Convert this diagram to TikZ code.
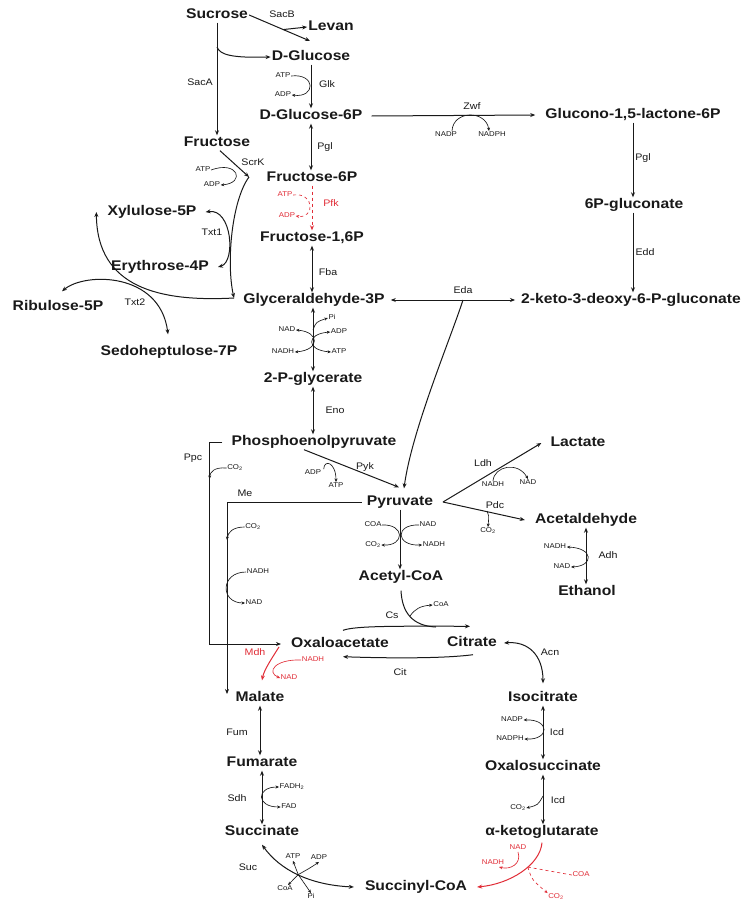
\documentclass[tikz,border=0pt]{standalone}
\usepackage{fontspec}
\usetikzlibrary{arrows.meta,calc}
\newfontfamily\lsans[FakeStretch=1.12]{Liberation Sans}
\newcommand\metf{\lsans\bfseries\fontsize{14}{16}\selectfont}
\newcommand\enzf{\lsans\fontsize{9.5}{10}\selectfont}
\newcommand\coff{\lsans\fontsize{7}{8}\selectfont}
\definecolor{rxnred}{RGB}{225,45,55}
\definecolor{ink}{RGB}{25,25,25}
\tikzset{
 met/.style={font=\metf, inner sep=1pt, text=ink, text height=10pt, text depth=3pt},
 enz/.style={font=\enzf, inner sep=0.5pt, text=ink},
 cof/.style={font=\coff, inner sep=0.5pt, text=ink, text height=5pt, text depth=1.5pt},
 rd/.style={text=rxnred},
 ln/.style={draw=ink, line width=1pt},
 arr/.style={ln, -{Stealth[length=5pt,width=4pt]}},
 darr/.style={ln, {Stealth[length=5pt,width=4pt]}-{Stealth[length=5pt,width=4pt]}},
 cl/.style={draw=ink, line width=0.65pt},
 carr/.style={cl, -{Stealth[length=3.5pt,width=3pt]}},
 cdarr/.style={cl, {Stealth[length=3.5pt,width=3pt]}-{Stealth[length=3.5pt,width=3pt]}},
 rarr/.style={draw=rxnred, line width=1pt, -{Stealth[length=5pt,width=4pt]}},
 rl/.style={draw=rxnred, line width=0.65pt},
 rcarr/.style={rl, -{Stealth[length=3.5pt,width=3pt]}},
}
\begin{document}
\begin{tikzpicture}[x=1pt,y=-1pt]
\fill[white] (0,0) rectangle (743,902);
\useasboundingbox (0,0) rectangle (743,902);

% metabolites
\node[met] (suc) at (217,15) {Sucrose};
\node[met] (lev) at (331,27) {Levan};
\node[met] (glc) at (311,57) {D-Glucose};
\node[met] (g6p) at (311,116) {D-Glucose-6P};
\node[met] (fru) at (217,143) {Fructose};
\node[met] (f6p) at (312,178) {Fructose-6P};
\node[met] (fbp) at (312,238) {Fructose-1,6P};
\node[met] (x5p) at (152,212) {Xylulose-5P};
\node[met] (e4p) at (160,267) {Erythrose-4P};
\node[met] (g3p) at (314,300) {Glyceraldehyde-3P};
\node[met] (r5p) at (58,307) {Ribulose-5P};
\node[met] (s7p) at (169,352) {Sedoheptulose-7P};
\node[met] (gl6p) at (633,115) {Glucono-1,5-lactone-6P};
\node[met] (pg6) at (634,205) {6P-gluconate};
\node[met] (kdpg) at (631,300) {2-keto-3-deoxy-6-P-gluconate};
\node[met] (p2g) at (313,379) {2-P-glycerate};
\node[met] (pep) at (314,442) {Phosphoenolpyruvate};
\node[met] (pyr) at (400,502) {Pyruvate};
\node[met] (lac) at (578,443) {Lactate};
\node[met] (acald) at (586,520) {Acetaldehyde};
\node[met] (eth) at (587,592) {Ethanol};
\node[met] (accoa) at (401,577) {Acetyl-CoA};
\node[met] (oaa) at (340,644) {Oxaloacetate};
\node[met] (cit) at (472,643) {Citrate};
\node[met] (mal) at (260,698) {Malate};
\node[met] (icit) at (543,698) {Isocitrate};
\node[met] (oxs) at (543,767) {Oxalosuccinate};
\node[met] (fum) at (262,763) {Fumarate};
\node[met] (akg) at (542,832) {α-ketoglutarate};
\node[met] (succ) at (262,832) {Succinate};
\node[met] (sucoa) at (416,887) {Succinyl-CoA};

% enzymes
\node[enz] (e_sacb) at (282,14) {SacB};
\node[enz] (e_saca) at (200,82) {SacA};
\node[enz] (e_glk) at (327,84) {Glk};
\node[enz] (e_pgi) at (325,147) {Pgl};
\node[enz] (e_scrk) at (253,162) {ScrK};
\node[enz,rd] (e_pfk) at (331,203) {Pfk};
\node[enz] (e_txt1) at (212,232) {Txt1};
\node[enz] (e_fba) at (328,272) {Fba};
\node[enz] (e_zwf) at (472,106) {Zwf};
\node[enz] (e_pgl) at (643,158) {Pgl};
\node[enz] (e_edd) at (645,252) {Edd};
\node[enz] (e_eda) at (463,290) {Eda};
\node[enz] (e_txt2) at (135,302) {Txt2};
\node[enz] (e_eno) at (335,410) {Eno};
\node[enz] (e_ppc) at (193,458) {Ppc};
\node[enz] (e_pyk) at (365,467) {Pyk};
\node[enz] (e_me) at (245,493) {Me};
\node[enz] (e_ldh) at (483,463) {Ldh};
\node[enz] (e_pdc) at (495,505) {Pdc};
\node[enz] (e_adh) at (608,555) {Adh};
\node[enz] (e_cs) at (392,615) {Cs};
\node[enz] (e_cit) at (400,672) {Cit};
\node[enz] (e_acn) at (550,652) {Acn};
\node[enz,rd] (e_mdh) at (255,652) {Mdh};
\node[enz] (e_icd1) at (557,732) {Icd};
\node[enz] (e_icd2) at (558,800) {Icd};
\node[enz] (e_fum) at (237,732) {Fum};
\node[enz] (e_sdh) at (237,798) {Sdh};
\node[enz] (e_suc) at (248,867) {Suc};

% cofactors
\node[cof] (c_atp1) at (283,76) {ATP};
\node[cof] (c_adp1) at (283,95) {ADP};
\node[cof] (c_atp2) at (203,170) {ATP};
\node[cof] (c_adp2) at (212,185) {ADP};
\node[cof,rd] (c_atp3) at (285,195) {ATP};
\node[cof,rd] (c_adp3) at (287,216) {ADP};
\node[cof] (c_nadp1) at (446,135) {NADP};
\node[cof] (c_nadph1) at (492,135) {NADPH};
\node[cof] (c_pi1) at (332,318) {Pi};
\node[cof] (c_adp4) at (339,332) {ADP};
\node[cof] (c_atp4) at (339,352) {ATP};
\node[cof] (c_nad1) at (287,330) {NAD};
\node[cof] (c_nadh1) at (283,352) {NADH};
\node[cof] (c_co2a) at (235,468) {CO\textsubscript{2}};
\node[cof] (c_adp5) at (313,473) {ADP};
\node[cof] (c_atp5) at (336,486) {ATP};
\node[cof] (c_co2b) at (253,527) {CO\textsubscript{2}};
\node[cof] (c_nadh2) at (258,572) {NADH};
\node[cof] (c_nad2) at (254,603) {NAD};
\node[cof] (c_coa1) at (373,525) {COA};
\node[cof] (c_nad3) at (428,525) {NAD};
\node[cof] (c_co2c) at (373,545) {CO\textsubscript{2}};
\node[cof] (c_nadh3) at (434,545) {NADH};
\node[cof] (c_nadh4) at (493,485) {NADH};
\node[cof] (c_nad4) at (528,483) {NAD};
\node[cof] (c_co2d) at (488,531) {CO\textsubscript{2}};
\node[cof] (c_nadh5) at (555,547) {NADH};
\node[cof] (c_nad5) at (562,567) {NAD};
\node[cof] (c_coa2) at (441,605) {CoA};
\node[cof,rd] (c_nadh6) at (313,660) {NADH};
\node[cof,rd] (c_nad6) at (289,678) {NAD};
\node[cof] (c_nadp2) at (512,720) {NADP};
\node[cof] (c_nadph2) at (510,739) {NADPH};
\node[cof] (c_co2e) at (518,808) {CO\textsubscript{2}};
\node[cof] (c_fadh) at (292,787) {FADH\textsubscript{2}};
\node[cof] (c_fad) at (289,807) {FAD};
\node[cof] (c_atp6) at (293,857) {ATP};
\node[cof] (c_adp6) at (319,858) {ADP};
\node[cof] (c_coa3) at (285,889) {CoA};
\node[cof] (c_pi2) at (311,897) {Pi};
\node[cof,rd] (c_nad7) at (518,848) {NAD};
\node[cof,rd] (c_nadh7) at (493,863) {NADH};
\node[cof,rd] (c_coa4) at (581,875) {COA};
\node[cof,rd] (c_co2f) at (556,897) {CO\textsubscript{2}};

% ---- connectors ----
% Sucrose
\coordinate (sacsplit) at (217,47);
\coordinate (sacbend) at (310,41);
\draw[arr] (suc.south) -- (suc.south |- fru.north);
\draw[arr] (sacsplit) .. controls (220,55) and (232,58) .. (glc.west);
\draw[arr] (suc.east) -- (sacbend);
\coordinate (levsplit) at ($(suc.east)!0.56!(sacbend)$);
\draw[arr] (levsplit) -- (lev.west);

% Glk
\draw[arr] (glc.south) -- (glc.south |- g6p.north);
\draw[carr] (c_atp1.east) .. controls (316,73) and (316,98) .. (c_adp1.east);
% Pgi
\draw[darr] (g6p.south) -- (g6p.south |- f6p.north);
% ScrK
\coordinate (scrkend) at (249,177);
\draw[arr] ([xshift=3pt]fru.south) -- (scrkend);
\draw[carr] (c_atp2.east) .. controls (238,160) and (246,183) .. (c_adp2.east);
% Pfk
\draw[rarr, dashed] (f6p.south) -- (f6p.south |- fbp.north);
\draw[rcarr, dashed] (c_atp3.east) .. controls (315,192) and (315,219) .. (c_adp3.east);
% Fba
\draw[darr] (fbp.south) -- (fbp.south |- g3p.north);
% Zwf
\draw[arr] ([xshift=8pt]g6p.east) -- ([xshift=-9pt]gl6p.west);
\draw[carr] ([xshift=6pt]c_nadp1.north) .. controls (453,110) and (486,110) .. ([xshift=-3pt]c_nadph1.north);
% Pgl / Edd
\draw[arr] (gl6p.south) -- (gl6p.south |- pg6.north);
\draw[arr] (pg6.south -| gl6p.south) -- (gl6p.south |- kdpg.north);
% Eda
\draw[darr] ([xshift=5pt]g3p.east) -- ([xshift=-5pt]kdpg.west);
\coordinate (edaj) at (463,300);
\draw[arr] (edaj) .. controls (450,340) and (412,430) .. ([xshift=4pt,yshift=6pt]pyr.north);

% Transketolase
\coordinate (g3pj) at (234,298);
\draw[arr] (scrkend) .. controls (232,200) and (226,262) .. (g3pj);
\draw[arr] (g3pj) .. controls (160,302) and (97,288) .. ([xshift=-10pt]x5p.west);
\draw[darr] ([xshift=8pt]x5p.east) .. controls (232,208) and (236,262) .. ([xshift=8pt]e4p.east);
\draw[darr] ([xshift=4pt,yshift=8pt]r5p.north) .. controls (85,272) and (160,272) .. ([xshift=-1pt,yshift=10pt]s7p.north);

% GAPDH / Pgk
\draw[darr] (p2g.north |- g3p.south) -- (p2g.north);
\draw[cdarr] (c_nad1.east) .. controls (320,332) and (320,350) .. (c_nadh1.east);
\coordinate (gapa) at (313,330);
\draw[carr] (gapa) .. controls (316,322) .. (c_pi1.west);
\draw[cdarr] (c_adp4.west) .. controls (306,334) and (306,350) .. (c_atp4.west);
% Eno
\draw[darr] (p2g.south) -- (p2g.south |- pep.north);
% Pyk
\draw[arr] ([xshift=-10pt]pep.south) -- ([xshift=-1pt,yshift=7pt]pyr.north);
\draw[carr] ([xshift=2pt]c_adp5.north east) .. controls (324,459) and (336,462) .. (c_atp5.north);

% Pyruvate branches
\coordinate (pyrj) at (443,502);
\draw[arr] (pyrj) -- ([xshift=-8pt]lac.west);
\draw[arr] (pyrj) -- ([xshift=-9pt]acald.west);
\draw[carr] (c_nadh4.north) .. controls (494,466) and (518,461) .. (c_nad4.north);
\coordinate (pdcj) at (487,511);
\draw[carr] (pdcj) .. controls (489,515) .. (c_co2d.north);
% Adh
\draw[darr] (acald.south) -- (acald.south |- eth.north);
\draw[cdarr] (c_nadh5.east) .. controls (594,548) and (594,566) .. (c_nad5.east);
% PDH
\draw[arr] (pyr.south) -- (pyr.south |- accoa.north);
\draw[carr] (c_coa1.east) .. controls (405,524) and (405,546) .. (c_co2c.east);
\draw[carr] (c_nad3.west) .. controls (395,524) and (395,546) .. (c_nadh3.west);

% Ppc
\draw[arr] ([xshift=-8pt]pep.west) -- ++(-13,0) |- ([xshift=-9pt]oaa.west);
\coordinate (ppcco2) at (209.5,479);
\draw[carr] (c_co2a.west) .. controls (214,467) and (210,472) .. (ppcco2);
% Me
\coordinate (mebot) at (227,694);
\draw[arr] ([xshift=-4pt]pyr.west) -| (mebot);
\coordinate (meco2) at (227,540);
\draw[carr] (c_co2b.west) .. controls (233,527) and (228,532) .. (meco2);
\draw[carr] (c_nadh2.west) .. controls (220,572) and (220,603) .. (c_nad2.west);

% Cs
\draw[arr] ([xshift=3pt,yshift=6pt]oaa.north) .. controls (355,626) and (390,626) .. ([xshift=-2pt,yshift=9pt]cit.north);
\draw[ln] ([yshift=-6pt]accoa.south) .. controls (402,612) and (412,626) .. (436,627);
\coordinate (csj) at (410,616);
\draw[carr] (csj) .. controls (415,609) and (420,606) .. (c_coa2.west);
% Cit
\draw[arr] ([xshift=1pt,yshift=-4pt]cit.south) .. controls (440,659) and (380,658) .. ([xshift=3pt,yshift=-5pt]oaa.south);
% Mdh
\draw[rarr] ([xshift=-11pt,yshift=-3pt]oaa.west) .. controls (272,658) and (264,670) .. ([xshift=2pt,yshift=10pt]mal.north);
\draw[rcarr] (c_nadh6.west) .. controls (275,659) and (266,672) .. (c_nad6.west);
% Fum, Sdh
\draw[darr] (mal.south) -- (mal.south |- fum.north);
\draw[darr] (fum.south) -- (fum.south |- succ.north);
\draw[cdarr] (c_fadh.west) .. controls (256,787) and (256,807) .. (c_fad.west);
% Suc
\draw[darr] ([yshift=-5pt]succ.south) .. controls (280,870) and (310,885) .. ([xshift=-10pt]sucoa.west) coordinate[pos=0.5] (sj);
\draw[carr] (sj) -- (c_atp6.south);
\draw[carr] (sj) .. controls (310,868) .. (c_adp6.south);
\draw[carr] (sj) -- ([xshift=3pt]c_coa3.north);
\draw[carr] (sj) -- (c_pi2.north);

% Acn, Icd
\draw[darr] ([xshift=6pt]cit.east) .. controls (528,641) and (543,655) .. ([yshift=7pt]icit.north);
\draw[darr] (icit.south) -- (icit.south |- oxs.north);
\draw[cdarr] (c_nadp2.east) .. controls (550,719) and (550,740) .. (c_nadph2.east);
\draw[darr] (oxs.south) -- (oxs.south |- akg.north);
\coordinate (icdj) at (543,796);
\draw[carr] (icdj) .. controls (538,805) .. (c_co2e.east);

% alpha-KG dehydrogenase
\draw[rarr] ([yshift=-3pt]akg.south) .. controls (540,865) and (510,884) .. ([xshift=9pt]sucoa.east) coordinate[pos=0.4] (rj);
\draw[rcarr] (c_nad7.south) .. controls (522,864) and (510,870) .. ([xshift=6pt]c_nadh7.south);
\draw[rl, dashed] (rj) -- (c_coa4.west);
\draw[rcarr, dashed] (rj) .. controls (532,880) .. (c_co2f.north west);
\end{tikzpicture}
\end{document}
